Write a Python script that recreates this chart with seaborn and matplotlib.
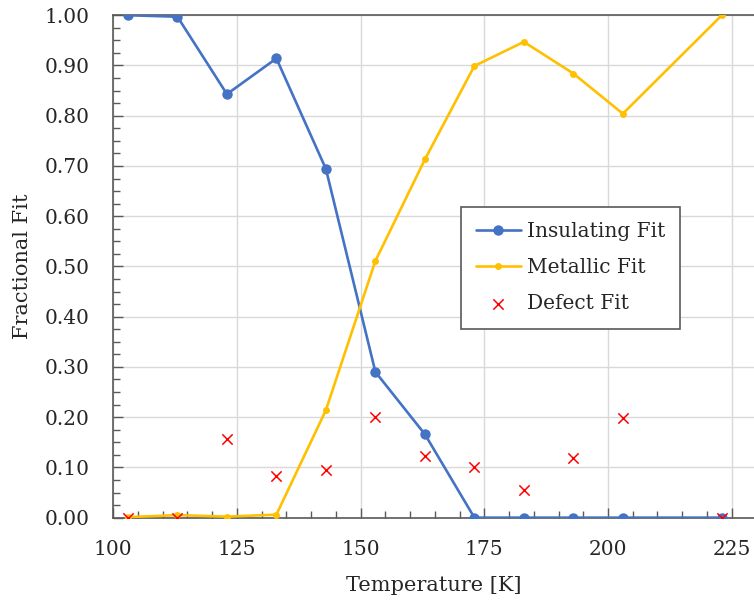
import matplotlib.pyplot as plt
import matplotlib.ticker as mticker
import pandas as pd
import seaborn as sns

# temperatures [K]
temperature = [103, 113, 123, 133, 143, 153, 163, 173, 183, 193, 203, 223]
insulating_fit = [1.000, 0.997, 0.843, 0.914, 0.694, 0.290, 0.166, 0.0, 0.0, 0.0, 0.0, 0.0]
metallic_fit = [0.001, 0.005, 0.002, 0.006, 0.214, 0.511, 0.713, 0.899, 0.947, 0.884, 0.804, 1.000]
defect_fit = [0.0, 0.0, 0.156, 0.082, 0.095, 0.201, 0.123, 0.100, 0.055, 0.119, 0.199, 0.0]

df = pd.DataFrame({
    "Temperature": temperature,
    "Insulating Fit": insulating_fit,
    "Metallic Fit": metallic_fit,
    "Defect Fit": defect_fit,
})

sns.set_theme(style="white")
plt.rcParams["font.family"] = ["DejaVu Serif"]
plt.rcParams["text.color"] = "#262626"

fig = plt.figure(figsize=(7.54, 6.09), dpi=100)
ax = fig.add_axes([0.150, 0.150, 0.85, 0.825])

sns.lineplot(data=df, x="Temperature", y="Insulating Fit", ax=ax,
             color="#4472C4", marker="o", markersize=7.5, markeredgewidth=0,
             linewidth=1.9, label="Insulating Fit", zorder=3)
sns.lineplot(data=df, x="Temperature", y="Metallic Fit", ax=ax,
             color="#FFC000", marker="o", markersize=5, markeredgewidth=0,
             linewidth=1.9, label="Metallic Fit", zorder=3)
sns.scatterplot(data=df, x="Temperature", y="Defect Fit", ax=ax,
                color="#FF0000", marker="x", s=55, linewidth=1.1,
                label="Defect Fit", zorder=4)

ax.set_xlim(100, 229.5)
ax.set_ylim(0, 1.0)
ax.xaxis.set_major_locator(mticker.MultipleLocator(25))
ax.xaxis.set_minor_locator(mticker.MultipleLocator(5))
ax.yaxis.set_major_locator(mticker.MultipleLocator(0.1))
ax.yaxis.set_minor_locator(mticker.MultipleLocator(0.025))
ax.yaxis.set_major_formatter(mticker.FormatStrFormatter("%.2f"))

ax.grid(True, which="major", color="#d9d9d9", linewidth=1.0)
ax.set_axisbelow(True)
ax.tick_params(which="both", direction="in", bottom=True, left=True,
               colors="#595959", labelcolor="#262626", labelsize=14.5)
ax.tick_params(which="major", length=7, width=1)
ax.tick_params(which="minor", length=5, width=1)
ax.tick_params(axis="x", pad=16)
ax.tick_params(axis="y", pad=17)

for side in ["left", "bottom", "top"]:
    ax.spines[side].set_color("#595959")
    ax.spines[side].set_linewidth(1.2)
ax.spines["right"].set_visible(False)

ax.set_xlabel("Temperature [K]", fontsize=15, labelpad=12)
ax.set_ylabel("Fractional Fit", fontsize=15, labelpad=9)

leg = ax.legend(loc="upper left", bbox_to_anchor=(0.543, 0.618), fontsize=14.5,
                frameon=True, fancybox=False, framealpha=1, edgecolor="#595959",
                borderpad=0.75, labelspacing=0.85, handlelength=2.2, handletextpad=0.3,
                borderaxespad=0)
leg.get_frame().set_linewidth(1.2)

fig.savefig("out.png", dpi=100)
